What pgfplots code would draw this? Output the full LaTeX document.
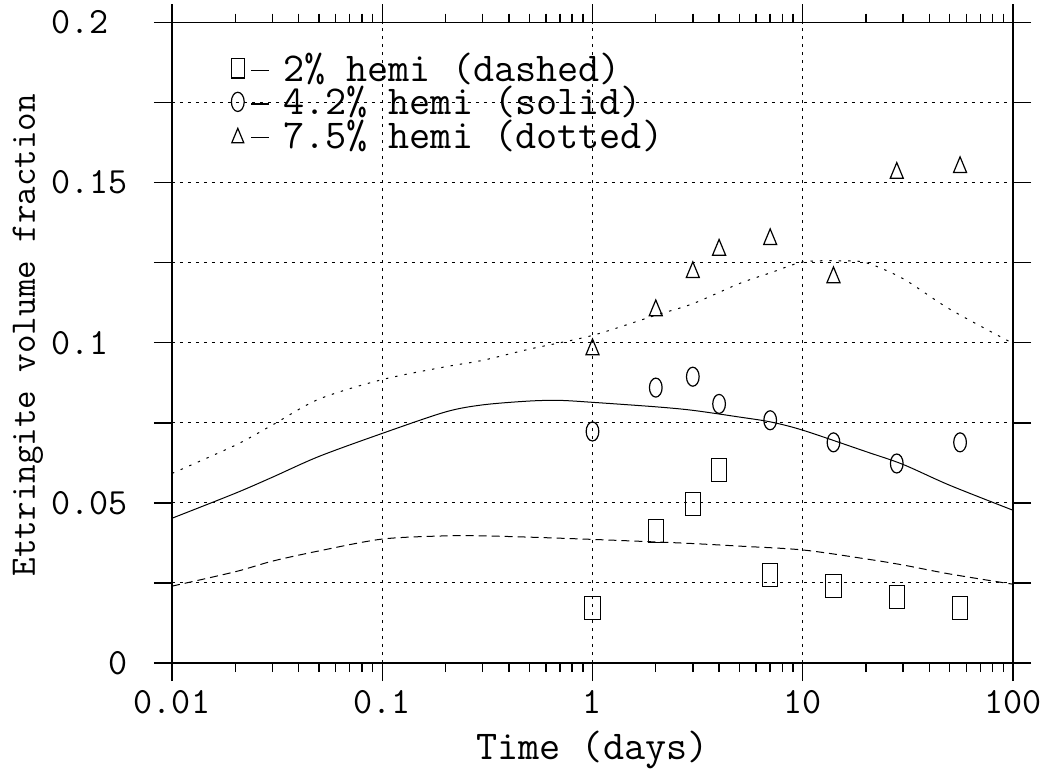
\documentclass[border=0pt]{standalone}
\usepackage{fontspec}
\usepackage{pgfplots}
\pgfplotsset{compat=1.18}
\newcommand{\ldash}{\rule[5pt]{9pt}{0.6pt}\hspace*{7pt}}
\begin{document}
\begin{tikzpicture}
\begin{axis}[
  scale only axis, width=420.5pt, height=320.25pt,
  xmode=log, xmin=0.01, xmax=100, ymin=0, ymax=0.2,
  axis line style={line width=0.9pt},
  tick align=outside,
  major tick length=9pt, minor tick length=4.5pt,
  every tick/.style={black, line width=0.7pt},
  xtick={0.01,0.1,1,10,100},
  xticklabels={0.01,0.1,1,10,100},
  minor xtick={0.02,0.03,0.04,0.05,0.06,0.07,0.08,0.09,0.2,0.3,0.4,0.5,0.6,0.7,0.8,0.9,2,3,4,5,6,7,8,9,20,30,40,50,60,70,80,90},
  ytick={0,0.025,0.05,0.075,0.1,0.125,0.15,0.175,0.2},
  yticklabels={0,,0.05,,0.1\phantom{0},,0.15,,0.2\phantom{0}},
  grid=major,
  major grid style={black, line width=0.5pt, dash pattern=on 1.6pt off 2.4pt},
  minor grid style={draw=none},
  ticklabel style={font=\fontsize{18.5}{22}\ttfamily},
  yticklabel style={inner sep=0pt, xshift=-13pt},
  xticklabel style={inner sep=0pt, yshift=-4.5pt},
  xlabel={Time (days)},
  xlabel style={font=\fontsize{20.5}{24}\ttfamily, at={(axis description cs:0.5,0)}, anchor=north, yshift=-34pt, inner sep=0pt},
  ylabel={Ettringite volume fraction},
  ylabel style={font=\fontsize{18}{22}\ttfamily, at={(axis description cs:-0.1712,0.512)}, anchor=center, inner sep=0pt, rotate=0},
  legend style={draw=none, fill=none, at={(axis description cs:0.0654,0.9535)}, anchor=north west, inner sep=0pt, row sep=1pt, font=\fontsize{20.5}{24}\ttfamily, nodes={inner sep=0pt}},
  legend cell align=left,
  legend image code/.code={\draw[#1, mark size=4.8pt] plot coordinates {(5pt,0pt)}; \path (0pt,0pt) (11.5pt,0pt);},
  clip=false,
]
\coordinate (sw) at (rel axis cs:0,0);
% model curves
\addplot[forget plot, black, line width=0.5pt, smooth, dash pattern=on 4pt off 2.5pt] coordinates {
(0.01,0.0240) (0.02,0.0285) (0.03,0.0318) (0.05,0.0350) (0.1,0.0387) (0.2,0.0397) (0.3,0.0397) (0.5,0.0393) (1,0.0386) (2,0.0378) (3,0.0373) (5,0.0365) (10,0.0353) (20,0.0325) (30,0.0306) (50,0.0278) (100,0.0246)};
\addplot[forget plot, black, line width=0.5pt, smooth] coordinates {
(0.01,0.0452) (0.02,0.0530) (0.03,0.0580) (0.05,0.0645) (0.1,0.0717) (0.2,0.0784) (0.3,0.0806) (0.5,0.0818) (0.7,0.0820) (1,0.0814) (2,0.0800) (3,0.0789) (5,0.0768) (7,0.0753) (10,0.0727) (20,0.0660) (30,0.0620) (50,0.0555) (100,0.0477)};
\addplot[forget plot, black, line width=0.5pt, smooth, dash pattern=on 1.2pt off 3.5pt] coordinates {
(0.01,0.0592) (0.02,0.0680) (0.03,0.0743) (0.05,0.0824) (0.1,0.0885) (0.2,0.0925) (0.3,0.0945) (0.5,0.0980) (1,0.1023) (2,0.1086) (3,0.1122) (5,0.1185) (7,0.1218) (10,0.1252) (15,0.1256) (20,0.1250) (30,0.1200) (50,0.1105) (100,0.0998)};
% measurements
\addplot[black, only marks, mark=square, mark size=5.75pt, mark options={xscale=0.665, line width=0.6pt}] coordinates {
(1,0.0173) (2,0.0412) (3,0.0497) (4,0.0602) (7,0.0276) (14,0.0241) (28,0.0207) (56,0.0173)};
\addlegendentry{\ldash 2\% hemi (dashed)}
\addplot[black, only marks, mark=o, mark size=4.75pt, mark options={xscale=0.667, line width=0.6pt}] coordinates {
(1,0.0723) (2,0.0860) (3,0.0894) (4,0.0809) (7,0.0758) (14,0.0689) (28,0.0623) (56,0.0689)};
\addlegendentry{\ldash 4.2\% hemi (solid)}
\addplot[black, only marks, mark=triangle, mark size=5.23pt, mark options={xscale=0.72, yshift=-1.3pt, line width=0.6pt}] coordinates {
(1,0.0987) (2,0.1109) (3,0.1228) (4,0.1298) (7,0.1331) (14,0.1212) (28,0.1538) (56,0.1556)};
\addlegendentry{\ldash 7.5\% hemi (dotted)}
\end{axis}
\pgfresetboundingbox
\path (sw) ++(-86pt,-55pt) rectangle ++(524.5pt,386.5pt);
\end{tikzpicture}
\end{document}
